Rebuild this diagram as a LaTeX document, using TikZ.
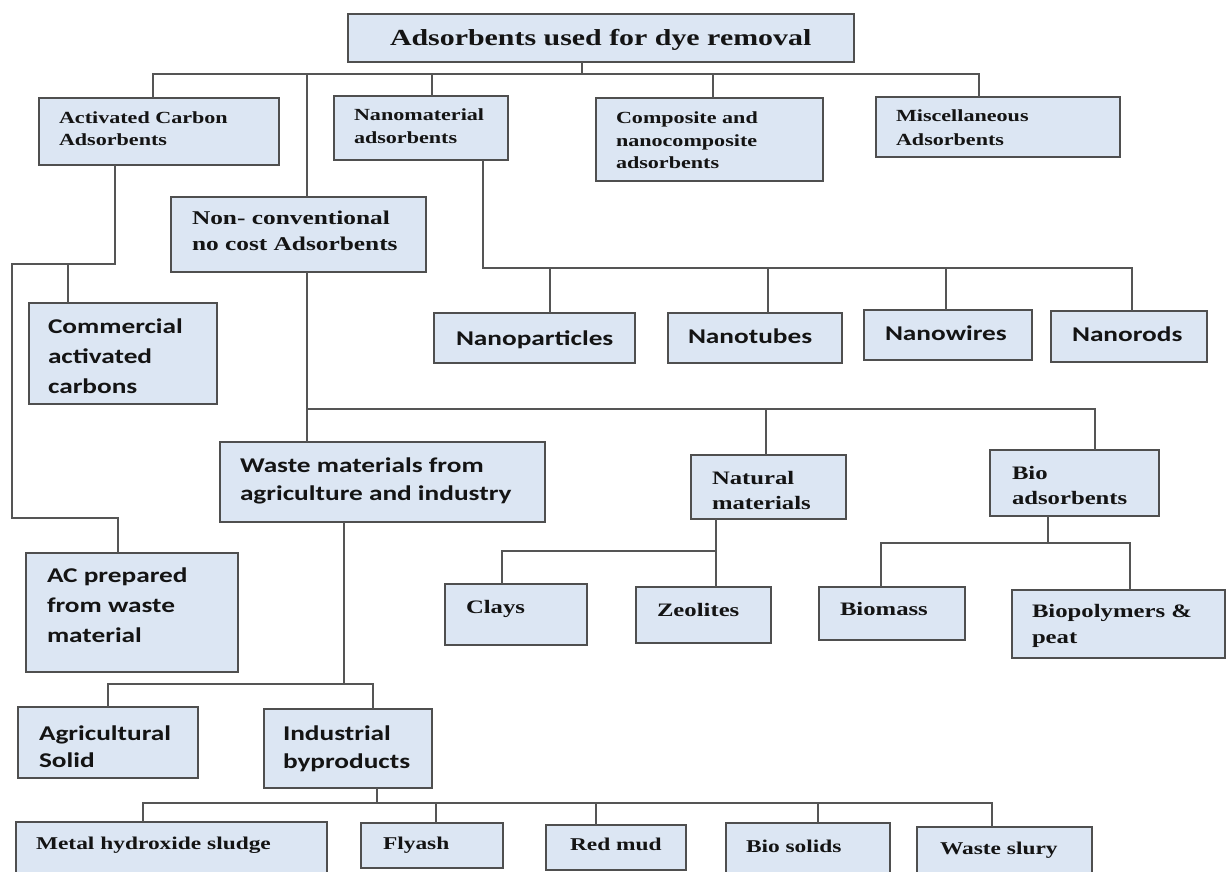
\documentclass[tikz,border=0pt]{standalone}
\usepackage{fontspec}
\newfontfamily\serf[FakeStretch=1.3]{Liberation Serif}
\newfontfamily\sanf[FakeStretch=1.3]{Carlito}
\newcommand\ml[1]{\begin{tabular}[t]{@{}l@{}}#1\end{tabular}}
\definecolor{boxfill}{HTML}{DCE6F3}
\definecolor{boxline}{HTML}{4F4F4F}
\definecolor{conn}{HTML}{555555}
\definecolor{textc}{HTML}{141414}
\tikzset{
  bx/.style={rectangle, draw=boxline, line width=1.8pt, fill=boxfill, inner sep=0pt, outer sep=0pt},
  cn/.style={draw=conn, line width=1.8pt},
  tx/.style={anchor=base west, inner sep=0pt, outer sep=0pt, text=textc},
  sr/.style 2 args={tx, font=\serf\bfseries\fontsize{#1}{#2}\selectfont},
  ss/.style 2 args={tx, font=\sanf\bfseries\fontsize{#1}{#2}\selectfont}
}
\begin{document}
\begin{tikzpicture}[x=1pt, y=-1pt]
\useasboundingbox (0,0) rectangle (1227,872);
\clip (0,0) rectangle (1227,872);
\fill[white] (0,0) rectangle (1227,872);
% boxes
\node[bx, minimum width=506pt, minimum height=48pt] (root) at (601,38) {};
\node[bx, minimum width=240pt, minimum height=67pt] (ac) at (159,131.5) {};
\node[bx, minimum width=174pt, minimum height=64pt] (nano) at (421,128) {};
\node[bx, minimum width=227pt, minimum height=83pt] (comp) at (709.5,139.5) {};
\node[bx, minimum width=244pt, minimum height=60pt] (misc) at (998,127) {};
\node[bx, minimum width=255pt, minimum height=75pt] (nonc) at (298.5,234.5) {};
\node[bx, minimum width=188pt, minimum height=101pt] (comm) at (123,353.5) {};
\node[bx, minimum width=212pt, minimum height=119pt] (acw) at (132,612.5) {};
\node[bx, minimum width=201pt, minimum height=50pt] (np) at (534.5,338) {};
\node[bx, minimum width=174pt, minimum height=50pt] (nt) at (755,338) {};
\node[bx, minimum width=168pt, minimum height=50pt] (nw) at (948,335) {};
\node[bx, minimum width=156pt, minimum height=51pt] (nr) at (1129,336.5) {};
\node[bx, minimum width=325pt, minimum height=80pt] (waste) at (382.5,482) {};
\node[bx, minimum width=155pt, minimum height=64pt] (nat) at (768.5,487) {};
\node[bx, minimum width=169pt, minimum height=66pt] (bio) at (1074.5,483) {};
\node[bx, minimum width=142pt, minimum height=61pt] (clays) at (516,614.5) {};
\node[bx, minimum width=135pt, minimum height=56pt] (zeo) at (703.5,615) {};
\node[bx, minimum width=146pt, minimum height=53pt] (biom) at (892,613.5) {};
\node[bx, minimum width=213pt, minimum height=68pt] (biop) at (1118.5,624) {};
\node[bx, minimum width=180pt, minimum height=71pt] (agri) at (108,742.5) {};
\node[bx, minimum width=168pt, minimum height=79pt] (ind) at (348,748.5) {};
\node[bx, minimum width=311pt, minimum height=56pt] (mhs) at (171.5,850) {};
\node[bx, minimum width=142pt, minimum height=45pt] (fly) at (432,845.5) {};
\node[bx, minimum width=140pt, minimum height=45pt] (red) at (616,847.5) {};
\node[bx, minimum width=164pt, minimum height=55pt] (bios) at (808,850.5) {};
\node[bx, minimum width=175pt, minimum height=51pt] (wsl) at (1004.5,852.5) {};
% connectors
\draw[cn] ([xshift=-19pt]root.south) -- ++(0,12);
\draw[cn] ([xshift=-6pt]ac.north) -- ++(0,-24) -| ([xshift=-19pt]misc.north);
\draw[cn] ([xshift=11pt]nano.north) -- ++(0,-22);
\draw[cn] ([xshift=3.5pt]comp.north) -- ++(0,-24);
\draw[cn] ([xshift=8.5pt]nonc.north) -- ++(0,-123);
\coordinate (acL) at (12,264);
\coordinate (acL2) at (12,518);
\draw[cn] ([xshift=-44pt]ac.south) |- (acL) -- (acL2) -| ([xshift=-14pt]acw.north);
\draw[cn] ([xshift=-55pt]comm.north) -- ++(0,-39);
\draw[cn] ([xshift=62pt]nano.south) -- ++(0,108) -| ([xshift=3pt]nr.north);
\draw[cn] ([xshift=15.5pt]np.north) -- ++(0,-45);
\draw[cn] ([xshift=13pt]nt.north) -- ++(0,-45);
\draw[cn] ([xshift=-2pt]nw.north) -- ++(0,-42);
\draw[cn] ([xshift=8.5pt]nonc.south) -- ([xshift=-75.5pt]waste.north);
\draw[cn] ([xshift=8.5pt]nonc.south) -- ++(0,137) -| ([xshift=20.5pt]bio.north);
\draw[cn] ([xshift=-2.5pt]nat.north) -- ++(0,-46);
\draw[cn] ([xshift=-38.5pt]waste.south) -- ++(0,162);
\draw[cn] (agri.north) -- ++(0,-23) -| ([xshift=25pt]ind.north);
\draw[cn] ([xshift=-52.5pt]nat.south) -- ([xshift=12.5pt]zeo.north);
\draw[cn] ([xshift=-14pt]clays.north) -- ++(0,-33) -| ([xshift=-52.5pt]nat.south);
\draw[cn] ([xshift=-26.5pt]bio.south) -- ++(0,27);
\draw[cn] ([xshift=-11pt]biom.north) -- ++(0,-44) -| ([xshift=11.5pt]biop.north);
\draw[cn] ([xshift=29pt]ind.south) -- ++(0,15);
\draw[cn] ([xshift=-28.5pt]mhs.north) -- ++(0,-19) -| ([xshift=-12.5pt]wsl.north);
\draw[cn] ([xshift=4pt]fly.north) -- ++(0,-20);
\draw[cn] ([xshift=-20pt]red.north) -- ++(0,-22);
\draw[cn] ([xshift=10pt]bios.north) -- ++(0,-20);
% texts
\node[sr={23}{28}] (root-t) at (390,46) {Adsorbents used for dye removal};
\node[sr={17}{22}] (ac-t) at (59,124) {\ml{Activated Carbon\\Adsorbents}};
\node[sr={17}{23}] (nano-t) at (354,121) {\ml{Nanomaterial\\adsorbents}};
\node[sr={17}{22.5}] (comp-t) at (616,124) {\ml{Composite and\\nanocomposite\\adsorbents}};
\node[sr={17}{24}] (misc-t) at (896,122) {\ml{Miscellaneous\\Adsorbents}};
\node[sr={19.5}{25}] (nonc-t) at (192,225) {\ml{Non- conventional\\no cost Adsorbents}};
\node[ss={21}{30}] (comm-t) at (48,333) {\ml{Commercial\\activated\\carbons}};
\node[ss={21}{30}] (acw-t) at (47,582) {\ml{AC prepared\\from waste\\material}};
\node[ss={21}{25}] (np-t) at (456,345) {Nanoparticles};
\node[ss={21}{25}] (nt-t) at (688,343) {Nanotubes};
\node[ss={21}{25}] (nw-t) at (885,340) {Nanowires};
\node[ss={21}{25}] (nr-t) at (1072,341) {Nanorods};
\node[ss={21}{28}] (waste-t) at (240,472) {\ml{Waste materials from\\agriculture and industry}};
\node[sr={19}{25}] (nat-t) at (712,484) {\ml{Natural\\materials}};
\node[sr={19}{25}] (bio-t) at (1012,479) {\ml{Bio\\adsorbents}};
\node[sr={19}{25}] (clays-t) at (466,613) {Clays};
\node[sr={19}{25}] (zeo-t) at (657,616) {Zeolites};
\node[sr={19}{25}] (biom-t) at (840,615) {Biomass};
\node[sr={19}{26}] (biop-t) at (1032,617) {\ml{Biopolymers \&\\peat}};
\node[ss={21}{27}] (agri-t) at (39,740) {\ml{Agricultural\\Solid}};
\node[ss={21}{28}] (ind-t) at (283,740) {\ml{Industrial\\byproducts}};
\node[sr={18}{22}] (mhs-t) at (36,849) {Metal hydroxide sludge};
\node[sr={18}{22}] (fly-t) at (383,849) {Flyash};
\node[sr={18}{22}] (red-t) at (570,850) {Red mud};
\node[sr={18}{22}] (bios-t) at (746,852) {Bio solids};
\node[sr={18}{22}] (wsl-t) at (940,854) {Waste slury};
\end{tikzpicture}
\end{document}
